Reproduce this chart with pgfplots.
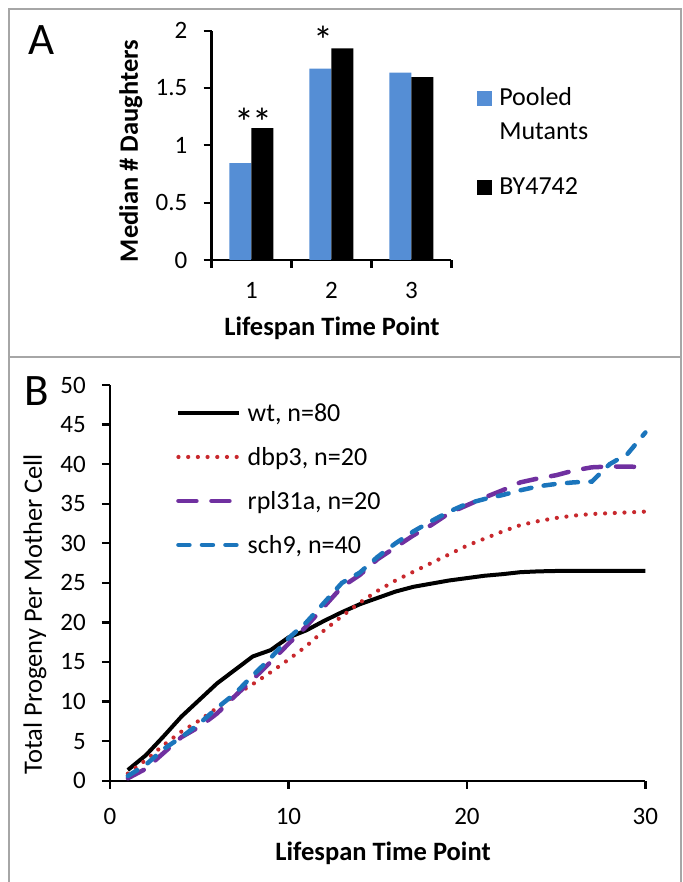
\documentclass[border=0pt]{standalone}
\usepackage{fontspec}
\setmainfont{Carlito}
\usepackage{pgfplots}
\pgfplotsset{compat=1.18}

\definecolor{barblue}{HTML}{558ED5}
\definecolor{dbpred}{HTML}{C8282D}
\definecolor{rplpurple}{HTML}{7030A0}
\definecolor{schblue}{HTML}{1B75BC}
\definecolor{framegray}{HTML}{A6A6A6}

\newcommand{\tickfont}{\fontsize{25bp}{29bp}\selectfont}
\newcommand{\labfont}{\fontsize{26.5bp}{32bp}\selectfont\bfseries}

% legend squares: one level with the first text line, one low in a tall row
\pgfplotsset{
  legsqtop/.style={legend image code/.code={\fill[##1] (0bp,-10bp) rectangle (15bp,5bp);}},
  legsqlow/.style={legend image code/.code={\fill[##1] (0bp,-20bp) rectangle (15bp,-5bp);}},
}

\begin{document}
\begin{tikzpicture}
\path[use as bounding box] (0bp,0bp) rectangle (683bp,882bp);
% panel frames
\draw[framegray, line width=1.6bp] (8.7bp,0bp) -- (8.7bp,873bp) -- (680.7bp,873bp) -- (680.7bp,0bp);
\draw[framegray, line width=1.6bp] (8.7bp,525bp) -- (680.7bp,525bp);

\node[anchor=base west, font=\fontsize{45bp}{50bp}\selectfont, inner sep=0] at (28bp,827bp) {A};
\node[anchor=base west, font=\fontsize{45bp}{50bp}\selectfont, inner sep=0] at (24bp,476bp) {B};

% ---------- panel A ----------
\begin{axis}[
  at={(211.5bp,622bp)}, anchor=south west,
  scale only axis, width=239.9bp, height=229.3bp,
  xmin=0.5, xmax=3.5, ymin=0, ymax=2,
  axis x line=bottom, axis y line=left,
  axis line style={-, line width=2.2bp, black},
  tick align=outside, major tick length=8bp,
  tick style={line width=2.2bp, black},
  ybar=0pt, bar width=22bp,
  xtick={0.5,1.5,2.5,3.5}, x tick label as interval, xticklabels={1,2,3},
  ytick={0,0.5,1,1.5,2},
  /pgf/number format/assume math mode=true,
  ticklabel style={font=\tickfont, inner sep=0pt},
  xticklabel style={yshift=-14bp},
  yticklabel style={xshift=-16bp},
  xlabel={Lifespan Time Point},
  ylabel={Median \# Daughters},
  xlabel style={font=\labfont, at={(rel axis cs:0.502,-0.297)}, anchor=center},
  ylabel style={font=\labfont, at={(rel axis cs:-0.336,0.475)}, anchor=center},
  legend style={at={(1.107,0.7626)}, anchor=north west, draw=none, fill=none,
    font=\fontsize{26bp}{33bp}\selectfont, row sep=13bp, column sep=7bp,
    inner sep=0pt, nodes={inner sep=0pt}},
  legend cell align=left,
  clip=false,
]
\addplot[fill=barblue, draw=none, legsqtop] coordinates {(1,0.845) (2,1.67) (3,1.635)};
\addlegendentry{\rule{0pt}{20bp}Pooled}
\addlegendimage{empty legend}
\addlegendentry{\rule{0pt}{20bp}Mutants}
\addplot[fill=black, draw=none, legsqlow] coordinates {(1,1.15) (2,1.846) (3,1.595)};
\addlegendentry{\rule{0pt}{40bp}BY4742}
\node[anchor=base, font=\fontsize{40bp}{40bp}\selectfont] at (axis cs:1.03,1.073) {*\kern-2bp*};
\node[anchor=base, font=\fontsize{40bp}{40bp}\selectfont] at (axis cs:1.906,1.788) {*};
\end{axis}

% ---------- panel B ----------
\begin{axis}[
  at={(110bp,101.3bp)}, anchor=south west,
  scale only axis, width=535.4bp, height=395.7bp,
  xmin=0, xmax=30, ymin=0, ymax=50,
  axis x line=bottom, axis y line=left,
  axis line style={-, line width=2.2bp, black},
  tick align=outside, major tick length=8bp,
  tick style={line width=2.2bp, black},
  xtick={0,10,20,30}, ytick={0,5,...,50},
  /pgf/number format/assume math mode=true,
  ticklabel style={font=\tickfont, inner sep=0pt},
  xticklabel style={yshift=-19bp},
  yticklabel style={xshift=-16bp},
  xlabel={Lifespan Time Point},
  ylabel={Total Progeny Per Mother Cell},
  xlabel style={font=\labfont, at={(rel axis cs:0.51,-0.183)}, anchor=center},
  ylabel style={font=\fontsize{26.5bp}{32bp}\selectfont, at={(rel axis cs:-0.140,0.421)}, anchor=center},
  legend style={at={(0.1233,0.962)}, anchor=north west, draw=none, fill=none,
    font=\fontsize{26bp}{30bp}\selectfont, row sep=21.5bp, column sep=6bp,
    inner sep=0pt, nodes={inner sep=0pt}},
  legend cell align=left,
  legend image code/.code={\draw[#1] (0bp,-1.5bp) -- (61bp,-1.5bp);},
  clip=false,
]
\addplot[black, line width=4bp, line join=round] table[row sep=\\] {
x y \\ 1 1.35 \\ 2 3.2 \\ 3 5.6 \\ 4 8.1 \\ 5 10.2 \\ 6 12.3 \\ 7 14.0 \\ 8 15.7 \\
9 16.5 \\ 10 18.1 \\ 11 19.0 \\ 12 20.2 \\ 13 21.3 \\ 14 22.3 \\ 15 23.1 \\ 16 23.9 \\
17 24.5 \\ 18 24.9 \\ 19 25.3 \\ 20 25.6 \\ 21 25.9 \\ 22 26.1 \\ 23 26.35 \\ 24 26.45 \\
25 26.5 \\ 26 26.5 \\ 27 26.5 \\ 28 26.5 \\ 29 26.5 \\ 30 26.5 \\
};
\addlegendentry{\rule{0pt}{21bp}wt, n=80}
\addplot[dbpred, line width=4.2bp, line cap=round, dash pattern=on 0bp off 9.7bp] table[row sep=\\] {
x y \\ 1 0.9 \\ 2 2.6 \\ 3 4.5 \\ 4 6.2 \\ 5 7.6 \\ 6 9.2 \\ 7 10.8 \\ 8 12.2 \\
9 13.7 \\ 10 15.3 \\ 11 17.0 \\ 12 19.0 \\ 13 20.8 \\ 14 22.5 \\ 15 24.0 \\ 16 25.3 \\
17 26.4 \\ 18 27.5 \\ 19 28.6 \\ 20 29.7 \\ 21 30.6 \\ 22 31.5 \\ 23 32.3 \\ 24 32.8 \\
25 33.2 \\ 26 33.5 \\ 27 33.7 \\ 28 33.8 \\ 29 33.9 \\ 30 34.0 \\
};
\addlegendentry{\rule{0pt}{21bp}dbp3, n=20}
\addplot[rplpurple, line width=4.5bp, line cap=round, dash pattern=on 18bp off 15bp] table[row sep=\\] {
x y \\ 1 0.3 \\ 2 1.5 \\ 3 3.5 \\ 4 5.5 \\ 5 6.8 \\ 6 8.5 \\ 7 10.7 \\ 8 12.8 \\
9 15.0 \\ 10 17.3 \\ 11 19.5 \\ 12 22.0 \\ 13 24.5 \\ 14 26.0 \\ 15 28.0 \\ 16 29.5 \\
17 31.0 \\ 18 32.3 \\ 19 33.8 \\ 20 34.8 \\ 21 35.8 \\ 22 36.7 \\ 23 37.7 \\ 24 38.2 \\
25 38.6 \\ 26 39.2 \\ 27 39.6 \\ 28 39.7 \\ 29 39.7 \\ 30 39.6 \\
};
\addlegendentry{\rule{0pt}{21bp}rpl31a, n=20}
\addplot[schblue, line width=4.5bp, line cap=round, dash pattern=on 11bp off 12.5bp] table[row sep=\\] {
x y \\ 1 0.6 \\ 2 2.0 \\ 3 4.0 \\ 4 5.5 \\ 5 7.2 \\ 6 9.2 \\ 7 11.0 \\ 8 13.3 \\
9 15.5 \\ 10 18.0 \\ 11 20.0 \\ 12 22.5 \\ 13 25.0 \\ 14 26.3 \\ 15 28.3 \\ 16 30.0 \\
17 31.5 \\ 18 32.8 \\ 19 34.0 \\ 20 35.0 \\ 21 35.6 \\ 22 36.1 \\ 23 36.7 \\ 24 37.2 \\
25 37.5 \\ 26 37.7 \\ 27 37.8 \\ 28 40.0 \\ 29 41.3 \\ 30 44.0 \\
};
\addlegendentry{\rule{0pt}{21bp}sch9, n=40}
\end{axis}
\end{tikzpicture}
\end{document}
